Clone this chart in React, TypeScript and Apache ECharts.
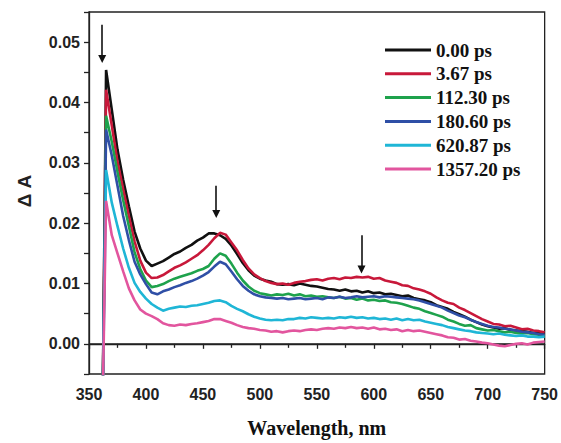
import React, { useEffect, useRef } from "react";
import * as echarts from "echarts";

const wavelengths = [
  362, 365, 370, 375, 380, 385, 390, 395, 400, 405, 410, 415, 420, 425, 430, 435, 440, 445, 450, 455,
  460, 465, 470, 475, 480, 485, 490, 495, 500, 505, 510, 515, 520, 525, 530, 535, 540, 545, 550, 555,
  560, 565, 570, 575, 580, 585, 590, 595, 600, 605, 610, 615, 620, 625, 630, 635, 640, 645, 650, 655,
  660, 665, 670, 675, 680, 685, 690, 695, 700, 705, 710, 715, 720, 725, 730, 735, 740, 745, 750,
];

const seriesNames = ["0.00 ps", "3.67 ps", "112.30 ps", "180.60 ps", "620.87 ps", "1357.20 ps"];
const seriesColors = ["#111111", "#c8183a", "#1ea24c", "#2f4fa6", "#1fb6d6", "#e2559e"];

const s000 = [
  -0.01, 0.0454, 0.0388, 0.0322, 0.0272, 0.0228, 0.0186, 0.0158, 0.0138, 0.0129, 0.0133, 0.0137, 0.0143, 0.0149, 0.0153, 0.0159, 0.0164, 0.0171, 0.0176, 0.0183,
  0.0183, 0.018, 0.0174, 0.0163, 0.0149, 0.0134, 0.0122, 0.0113, 0.0108, 0.0105, 0.0103, 0.0099, 0.0098, 0.0099, 0.0097, 0.01, 0.0098, 0.0096, 0.0095, 0.0093,
  0.0091, 0.009, 0.0088, 0.009, 0.0087, 0.0088, 0.0085, 0.0087, 0.0084, 0.0085, 0.0082, 0.0083, 0.0081, 0.0079, 0.008, 0.0076, 0.0074, 0.0072, 0.0069, 0.0064,
  0.0061, 0.0058, 0.0053, 0.0049, 0.0045, 0.004, 0.0036, 0.0032, 0.0029, 0.0027, 0.0025, 0.0026, 0.0023, 0.0022, 0.0021, 0.002, 0.0018, 0.0018, 0.0017,
];
const s367 = [
  -0.01, 0.0421, 0.0362, 0.0302, 0.0256, 0.0212, 0.017, 0.0138, 0.0118, 0.0109, 0.011, 0.0114, 0.012, 0.0126, 0.013, 0.0135, 0.0141, 0.0147, 0.0155, 0.0164,
  0.0175, 0.0184, 0.0181, 0.0168, 0.0155, 0.0139, 0.0125, 0.0115, 0.0109, 0.0104, 0.0101, 0.0099, 0.01, 0.0098, 0.0101, 0.0103, 0.0104, 0.0106, 0.0107, 0.0105,
  0.0108, 0.0109, 0.0107, 0.011, 0.0109, 0.0111, 0.011, 0.0111, 0.0108, 0.0109, 0.0105, 0.0103, 0.0101, 0.0097, 0.0096, 0.0092, 0.009, 0.0087, 0.0083, 0.0077,
  0.0072, 0.0068, 0.0066, 0.006, 0.0056, 0.0051, 0.0046, 0.0041, 0.0037, 0.0033, 0.0032, 0.0029, 0.003, 0.0027, 0.0024, 0.0025, 0.0022, 0.0021, 0.0019,
];
const s11230 = [
  -0.01, 0.0378, 0.0335, 0.0285, 0.0238, 0.0195, 0.0152, 0.0124, 0.0105, 0.0094, 0.0096, 0.0099, 0.0104, 0.0108, 0.0111, 0.0114, 0.0117, 0.0121, 0.0124, 0.0129,
  0.0141, 0.015, 0.0146, 0.0133, 0.0118, 0.0105, 0.0095, 0.0088, 0.0084, 0.0082, 0.008, 0.0082, 0.0081, 0.0083, 0.008, 0.0082, 0.0079, 0.008, 0.0078, 0.0079,
  0.0077, 0.0076, 0.0078, 0.0075, 0.0076, 0.0073, 0.0075, 0.0072, 0.0073, 0.0071, 0.0072, 0.0069, 0.0068, 0.0066, 0.0063, 0.006, 0.0058, 0.0054, 0.0051, 0.0048,
  0.0045, 0.004, 0.0037, 0.0033, 0.003, 0.0031, 0.0026, 0.0024, 0.0022, 0.0023, 0.0021, 0.0019, 0.002, 0.0018, 0.0017, 0.0018, 0.0016, 0.0015, 0.0014,
];
const s18060 = [
  -0.01, 0.0355, 0.0312, 0.0262, 0.0212, 0.0172, 0.0136, 0.0115, 0.0099, 0.0085, 0.0082, 0.0087, 0.009, 0.0094, 0.0097, 0.0101, 0.0104, 0.0108, 0.0113, 0.0119,
  0.0128, 0.0136, 0.0132, 0.012, 0.0107, 0.0096, 0.0088, 0.0082, 0.0079, 0.0077, 0.0076, 0.0075, 0.0076, 0.0074, 0.0075, 0.0076, 0.0074, 0.0075, 0.0076, 0.0074,
  0.0077, 0.0076, 0.0078, 0.0076, 0.0077, 0.0079, 0.0077, 0.0078, 0.0079, 0.0077, 0.0079, 0.0078, 0.0077, 0.0076, 0.0075, 0.0074, 0.0072, 0.0069, 0.0066, 0.0063,
  0.006, 0.0055, 0.0051, 0.0047, 0.0044, 0.004, 0.0036, 0.0033, 0.003, 0.0028, 0.0027, 0.0025, 0.0024, 0.0022, 0.002, 0.0019, 0.0018, 0.0016, 0.0015,
];
const s62087 = [
  -0.01, 0.0288, 0.0234, 0.0195, 0.0158, 0.0126, 0.0101, 0.0086, 0.0075, 0.0066, 0.006, 0.0055, 0.0058, 0.006, 0.0062, 0.0061, 0.0063, 0.0064, 0.0066, 0.0068,
  0.0071, 0.0072, 0.0069, 0.0063, 0.0058, 0.0054, 0.0049, 0.0045, 0.0042, 0.004, 0.0039, 0.004, 0.0039, 0.0041, 0.0041, 0.0043, 0.0042, 0.0044, 0.0043, 0.0042,
  0.0043, 0.0042, 0.0044, 0.0043, 0.0045, 0.0043, 0.0044, 0.0042, 0.0043, 0.0041, 0.0042, 0.004, 0.0042, 0.0039, 0.0041, 0.0039, 0.004, 0.0037, 0.0035, 0.0033,
  0.0031, 0.0028, 0.0026, 0.0024, 0.0022, 0.0021, 0.0019, 0.0018, 0.0017, 0.0016, 0.0017, 0.0015, 0.0014, 0.0013, 0.0014, 0.0012, 0.0012, 0.0011, 0.0012,
];
const s135720 = [
  -0.01, 0.0237, 0.018, 0.015, 0.012, 0.0092, 0.0072, 0.0057, 0.005, 0.0046, 0.0041, 0.0034, 0.0031, 0.003, 0.0032, 0.0031, 0.0033, 0.0034, 0.0036, 0.0038,
  0.0041, 0.0041, 0.0038, 0.0035, 0.0031, 0.0028, 0.0026, 0.0025, 0.0023, 0.0022, 0.002, 0.0021, 0.0019, 0.0021, 0.0022, 0.0021, 0.0023, 0.0024, 0.0023, 0.0025,
  0.0026, 0.0025, 0.0027, 0.0026, 0.0028, 0.0026, 0.0027, 0.0025, 0.0027, 0.0024, 0.0025, 0.0023, 0.0024, 0.0021, 0.0023, 0.0021, 0.0022, 0.002, 0.0018, 0.0016,
  0.0014, 0.0011, 0.001, 0.0007, 0.0008, 0.0005, 0.0004, 0.0002, 0.0001, -0.0001, -0.0003, -0.0004, -0.0002, 0.0, 0.0001, -0.0001, 0.0002, 0.0003, 0.0004,
];

const allSeries = [s000, s367, s11230, s18060, s62087, s135720];

// annotation arrows: [wavelength, start value, end value]
const arrows = [
  [361.6, 0.0529, 0.0472],
  [461.7, 0.0262, 0.0215],
  [589.2, 0.018, 0.0123],
];

const SANS = "'Liberation Sans', Arial, sans-serif";
const SERIF = "'Liberation Serif', 'Times New Roman', serif";

export default function App() {
  const ref = useRef<HTMLDivElement>(null);
  useEffect(() => {
    if (!ref.current) return;
    const chart = echarts.init(ref.current, undefined, { renderer: "svg" });
    const lineSeries = allSeries.map((vals, i) => ({
      name: seriesNames[i],
      type: "line",
      data: wavelengths.map((w, j) => [w, vals[j]]),
      showSymbol: false,
      symbol: "none",
      lineStyle: { color: seriesColors[i], width: 2.6 },
      itemStyle: { color: seriesColors[i] },
      z: 3 + i,
    }));
    const option = {
      animation: false,
      backgroundColor: "#ffffff",
      grid: {
        left: 89,
        right: 15,
        top: 12,
        bottom: 62,
        show: true,
        borderColor: "#222",
        borderWidth: 1.3,
        backgroundColor: "transparent",
      },
      legend: {
        data: seriesNames,
        orient: "vertical",
        left: 385,
        top: 40.5,
        padding: 0,
        icon: "rect",
        itemWidth: 46,
        itemHeight: 3,
        itemGap: 4.8,
        textStyle: {
          fontFamily: SERIF,
          fontWeight: "bold",
          fontSize: 19,
          lineHeight: 19,
          color: "#111",
        },
      },
      xAxis: {
        type: "value",
        min: 350,
        max: 750,
        interval: 50,
        name: "Wavelength, nm",
        nameLocation: "middle",
        nameGap: 44,
        nameTextStyle: { fontFamily: SERIF, fontWeight: "bold", fontSize: 20, color: "#111" },
        axisLine: { show: true, lineStyle: { color: "#222", width: 1.3 } },
        axisTick: { show: true, inside: false, length: 5, lineStyle: { color: "#222", width: 1.3 } },
        minorTick: { show: true, splitNumber: 2, length: 4, lineStyle: { color: "#222", width: 1.3 } },
        splitLine: { show: false },
        minorSplitLine: { show: false },
        axisLabel: { fontFamily: SANS, fontWeight: "bold", fontSize: 16, color: "#222", margin: 12 },
      },
      yAxis: {
        type: "value",
        min: -0.005,
        max: 0.055,
        interval: 0.005,
        axisLine: { show: true, lineStyle: { color: "#222", width: 1.3 } },
        axisTick: { show: true, inside: false, length: 5, lineStyle: { color: "#222", width: 1.3 } },
        splitLine: { show: false },
        axisLabel: {
          fontFamily: SANS,
          fontWeight: "bold",
          fontSize: 16,
          color: "#222",
          margin: 9,
          formatter: (v: number) => {
            const k = Math.round(v * 1000);
            if (k < 0 || k % 10 !== 0) return "";
            return (k / 1000).toFixed(2);
          },
        },
      },
      graphic: [
        {
          type: "text",
          x: 24,
          y: 191,
          rotation: Math.PI / 2,
          style: {
            text: "Δ A",
            fontFamily: SANS,
            fontWeight: "bold",
            fontSize: 19,
            fill: "#222",
            align: "center",
            verticalAlign: "middle",
          },
        },
      ],
      series: [
        {
          name: "zero",
          type: "line",
          data: [],
          z: 2,
          silent: true,
          markLine: {
            silent: true,
            symbol: ["none", "none"],
            label: { show: false },
            lineStyle: { color: "#222", width: 1.5, type: "solid" },
            data: [{ yAxis: 0 }],
          },
        },
        {
          name: "arrows",
          type: "line",
          data: [],
          z: 10,
          silent: true,
          markLine: {
            silent: true,
            symbol: ["none", "triangle"],
            symbolSize: 8,
            label: { show: false },
            lineStyle: { color: "#111", width: 1.6, type: "solid" },
            itemStyle: { color: "#111" },
            data: arrows.map((a) => [
              { coord: [a[0], a[1]] },
              { coord: [a[0], a[2]] },
            ]),
          },
        },
        ...lineSeries,
      ],
    };
    chart.setOption(option as any);
    return () => chart.dispose();
  }, []);
  return (
    <div
      ref={ref}
      style={{ position: "fixed", left: 0, top: 0, width: 561, height: 443, background: "#fff" }}
    />
  );
}
